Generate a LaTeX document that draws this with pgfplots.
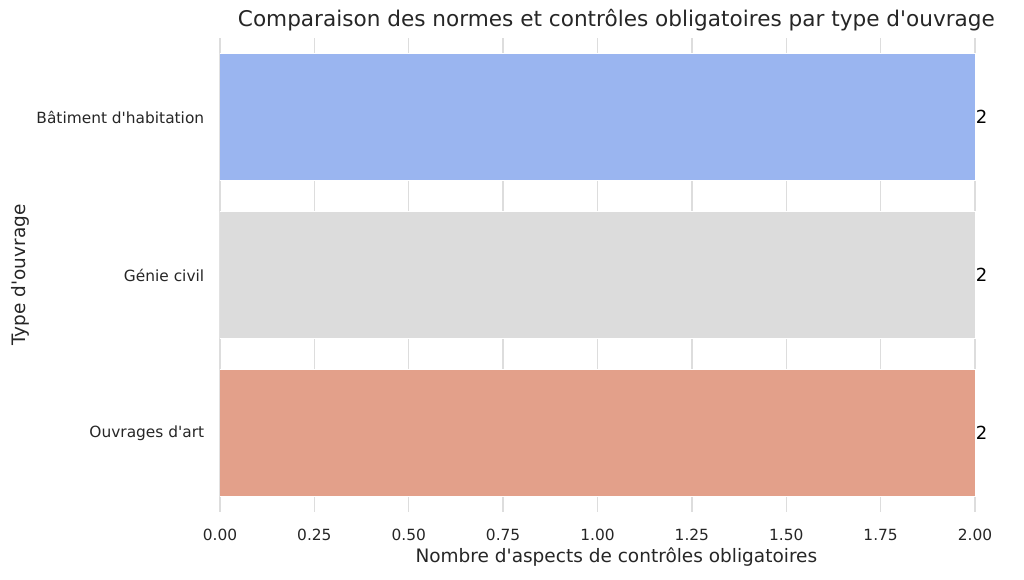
\documentclass[border=0pt]{standalone}
\usepackage{pgfplots}
\pgfplotsset{compat=1.18}
\usepackage{fontspec}
\setmainfont{DejaVu Sans}
\definecolor{cblue}{RGB}{154,181,240}
\definecolor{cgray}{RGB}{220,220,220}
\definecolor{csalmon}{RGB}{227,160,138}
\definecolor{txt}{RGB}{38,38,38}
\definecolor{gridc}{RGB}{221,221,221}
\begin{document}
\begin{tikzpicture}
\begin{axis}[
  at={(0,0)}, anchor=south west,
  scale only axis, width=792.75pt, height=474pt,
  xbar, bar width=0.8, bar shift=0pt,
  xmin=0, xmax=2.1, ymin=-0.5, ymax=2.5,
  y dir=reverse,
  ytick={0,1,2},
  yticklabels={B\^atiment d\textquotesingle habitation, G\'enie civil, Ouvrages d\textquotesingle art},
  xtick={0,0.25,0.5,0.75,1,1.25,1.5,1.75,2},
  xticklabel style={/pgf/number format/fixed, /pgf/number format/fixed zerofill, /pgf/number format/precision=2, /pgf/number format/assume math mode=true, yshift=-14pt},
  ticklabel style={font=\fontsize{15.4}{18}\selectfont, text=txt},
  yticklabel style={xshift=-8pt},
  axis line style={draw=none},
  major tick style={draw=none},
  xmajorgrids, grid style={gridc, line width=1.3pt},
  xlabel={Nombre d\textquotesingle aspects de contrôles obligatoires},
  ylabel={Type d\textquotesingle ouvrage},
  label style={font=\fontsize{18.5}{21}\selectfont, text=txt},
  xlabel style={at={(axis description cs:0.5,0)}, anchor=center, yshift=-45pt},
  ylabel style={at={(axis description cs:0,0.5)}, anchor=center, rotate=0, yshift=200pt},
  nodes near coords,
  nodes near coords style={font=\fontsize{18}{20}\selectfont, text=black, anchor=west, xshift=-3pt},
  point meta=explicit symbolic,
]
\addplot[fill=cblue, draw=white, line width=1pt] coordinates {(2,0) [2]};
\addplot[fill=cgray, draw=white, line width=1pt] coordinates {(2,1) [2]};
\addplot[fill=csalmon, draw=white, line width=1pt] coordinates {(2,2) [2]};
\end{axis}
\node[font=\fontsize{21.6}{25}\selectfont, text=txt] at (396.4pt,492pt) {Comparaison des normes et contrôles obligatoires par type d\textquotesingle ouvrage};
\pgfresetboundingbox
\useasboundingbox (-220pt,-67pt) rectangle (804pt,512pt);
\end{tikzpicture}
\end{document}
